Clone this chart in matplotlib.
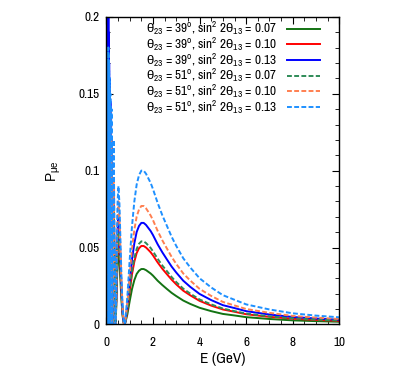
import matplotlib
matplotlib.use("Agg")
import matplotlib.pyplot as plt
from matplotlib.ticker import MultipleLocator

plt.rcParams['font.family'] = ['Archivo Narrow', 'Liberation Sans', 'DejaVu Sans']
plt.rcParams['font.size'] = 9
plt.rcParams['mathtext.fontset'] = 'custom'
plt.rcParams['mathtext.rm'] = 'Archivo Narrow'
plt.rcParams['mathtext.sf'] = 'Liberation Sans'
plt.rcParams['mathtext.it'] = 'Archivo Narrow:italic'

# energies (GeV): fast oscillations, second spike, main peak
energy = [0.07, 0.074, 0.0775, 0.082, 0.086, 0.091, 0.097, 0.103, 0.111, 0.119,
          0.129, 0.141, 0.155, 0.172, 0.194, 0.221, 0.258, 0.31, 0.3875,
          0.42, 0.45, 0.48, 0.517, 0.56, 0.6, 0.65, 0.7, 0.75, 0.78,
          0.8, 0.9, 1.0, 1.1, 1.2, 1.3, 1.4, 1.5, 1.6, 1.7, 1.8, 1.9, 2.0,
          2.2, 2.4, 2.6, 2.8, 3.0, 3.3, 3.6, 4.0, 4.5, 5.0, 5.5, 6.0,
          7.0, 8.0, 9.0, 10.0]

p_39_007 = [0, 0.16, 0, 0.15, 0, 0.15, 0, 0.14, 0, 0.13, 0, 0.12, 0, 0.10, 0, 0.08, 0, 0.06, 0,
            0.0099, 0.0271, 0.0406, 0.046, 0.0402, 0.0290, 0.0149, 0.0050, 0.0005, 0.0,
            0.0004, 0.0065, 0.0151, 0.0230, 0.0288, 0.0328, 0.0349, 0.036, 0.036, 0.0353,
            0.0342, 0.0331, 0.0317, 0.0284, 0.0256, 0.0230, 0.0205, 0.0184, 0.0155, 0.0133,
            0.0108, 0.0086, 0.0068, 0.0058, 0.0047, 0.0035, 0.0026, 0.0021, 0.0017]
p_39_010 = [0, 0.17, 0, 0.165, 0, 0.16, 0, 0.155, 0, 0.15, 0, 0.14, 0, 0.12, 0, 0.10, 0, 0.075, 0,
            0.0125, 0.0342, 0.0512, 0.058, 0.0506, 0.0366, 0.0188, 0.0063, 0.0006, 0.0,
            0.0005, 0.0092, 0.0214, 0.0326, 0.0408, 0.0464, 0.0495, 0.051, 0.051, 0.050,
            0.0485, 0.0469, 0.0449, 0.0403, 0.0362, 0.0326, 0.0291, 0.0260, 0.0219, 0.0189,
            0.0153, 0.0122, 0.0097, 0.0082, 0.0066, 0.0049, 0.0037, 0.0029, 0.0023]
p_39_013 = [0, 0.21, 0, 0.20, 0, 0.19, 0, 0.18, 0, 0.17, 0, 0.16, 0, 0.145, 0, 0.12, 0, 0.09, 0,
            0.0151, 0.0412, 0.0618, 0.070, 0.0611, 0.0442, 0.0227, 0.0076, 0.0008, 0.0,
            0.0007, 0.0119, 0.0277, 0.0422, 0.0528, 0.0601, 0.0640, 0.066, 0.066, 0.0647,
            0.0627, 0.0607, 0.0581, 0.0521, 0.0469, 0.0422, 0.0376, 0.0337, 0.0284, 0.0244,
            0.0198, 0.0158, 0.0125, 0.0106, 0.0086, 0.0064, 0.0048, 0.0038, 0.0030]
p_51_007 = [0, 0.16, 0, 0.155, 0, 0.15, 0, 0.145, 0, 0.14, 0, 0.13, 0, 0.115, 0, 0.095, 0, 0.075, 0,
            0.0129, 0.0353, 0.0530, 0.060, 0.0524, 0.0379, 0.0194, 0.0065, 0.0007, 0.0,
            0.0005, 0.0097, 0.0227, 0.0346, 0.0432, 0.0491, 0.0524, 0.054, 0.054, 0.0529,
            0.0513, 0.0497, 0.0475, 0.0427, 0.0383, 0.0346, 0.0308, 0.0275, 0.0232, 0.0200,
            0.0162, 0.0130, 0.0103, 0.0086, 0.0070, 0.0052, 0.0039, 0.0031, 0.0025]
p_51_010 = [0, 0.17, 0, 0.17, 0, 0.165, 0, 0.16, 0, 0.155, 0, 0.15, 0, 0.14, 0, 0.12, 0, 0.095, 0,
            0.0172, 0.0471, 0.0706, 0.080, 0.0698, 0.0505, 0.0259, 0.0087, 0.0009, 0.0,
            0.0008, 0.0139, 0.0323, 0.0493, 0.0616, 0.0701, 0.0747, 0.077, 0.077, 0.0755,
            0.0732, 0.0708, 0.0678, 0.0608, 0.0547, 0.0493, 0.0439, 0.0393, 0.0331, 0.0285,
            0.0231, 0.0185, 0.0146, 0.0123, 0.0100, 0.0075, 0.0055, 0.0044, 0.0035]
p_51_013 = [0, 0.18, 0, 0.18, 0, 0.175, 0, 0.17, 0, 0.165, 0, 0.16, 0, 0.15, 0, 0.14, 0, 0.12, 0,
            0.0194, 0.0530, 0.0795, 0.090, 0.0786, 0.0568, 0.0292, 0.0098, 0.0010, 0.0,
            0.001, 0.018, 0.042, 0.064, 0.080, 0.091, 0.097, 0.100, 0.100, 0.098,
            0.095, 0.092, 0.088, 0.079, 0.071, 0.064, 0.057, 0.051, 0.043, 0.037,
            0.030, 0.024, 0.019, 0.016, 0.013, 0.0097, 0.0072, 0.0057, 0.0046]

labels = [r"$\mathsf{\theta}_{23}$ = 39$^{\mathrm{o}}$, sin$^{2}$ 2$\mathsf{\theta}_{13}$ = 0.07",
          r"$\mathsf{\theta}_{23}$ = 39$^{\mathrm{o}}$, sin$^{2}$ 2$\mathsf{\theta}_{13}$ = 0.10",
          r"$\mathsf{\theta}_{23}$ = 39$^{\mathrm{o}}$, sin$^{2}$ 2$\mathsf{\theta}_{13}$ = 0.13",
          r"$\mathsf{\theta}_{23}$ = 51$^{\mathrm{o}}$, sin$^{2}$ 2$\mathsf{\theta}_{13}$ = 0.07",
          r"$\mathsf{\theta}_{23}$ = 51$^{\mathrm{o}}$, sin$^{2}$ 2$\mathsf{\theta}_{13}$ = 0.10",
          r"$\mathsf{\theta}_{23}$ = 51$^{\mathrm{o}}$, sin$^{2}$ 2$\mathsf{\theta}_{13}$ = 0.13"]
series = [p_39_007, p_39_010, p_39_013, p_51_007, p_51_010, p_51_013]
colors = ['#137313', '#ff0000', '#0000ff', '#2e8b57', '#ff7f50', '#1e90ff']
styles = ['-', '-', '-', '--', '--', '--']

fig = plt.figure(figsize=(4.03, 3.75), dpi=100)
ax = fig.add_axes([0.264, 0.135, 0.578, 0.82])

for p, c, ls, lab in zip(series, colors, styles, labels):
    line, = ax.plot(energy, p, color=c, ls=ls, lw=1.4, label=lab)
    if ls == '--':
        line.set_dashes((2.5, 1.2))

ax.set_xlim(0, 10)
ax.set_ylim(0, 0.2)
ax.xaxis.set_major_locator(MultipleLocator(2))
ax.xaxis.set_minor_locator(MultipleLocator(0.5))
ax.yaxis.set_minor_locator(MultipleLocator(0.01))
ax.set_yticks([0, 0.05, 0.1, 0.15, 0.2])
ax.set_yticklabels(['0', '0.05', '0.1', '0.15', '0.2'])
ax.tick_params(which='both', direction='in', top=True, right=True, labelsize=9.5)
ax.tick_params(which='major', length=5)
ax.tick_params(which='minor', length=3)
ax.tick_params(axis='x', which='major', pad=9)
ax.tick_params(axis='y', which='major', pad=5)
for s in ax.spines.values():
    s.set_linewidth(1.0)

ax.set_xlabel('E (GeV)', fontsize=11)
ax.xaxis.set_label_coords(0.5, -0.089)
ax.set_ylabel(r'$\mathregular{P_{\mu e}}$', fontsize=10, family='Liberation Sans')
ax.yaxis.set_label_coords(-0.186, 0.5)

ax.legend(loc='upper right', bbox_to_anchor=(0.916, 0.99), frameon=False,
          markerfirst=False, handlelength=2.5, labelspacing=-0.12,
          handletextpad=0.8, borderaxespad=0, borderpad=0, fontsize=9.5)

fig.savefig('out.png', dpi=100)
